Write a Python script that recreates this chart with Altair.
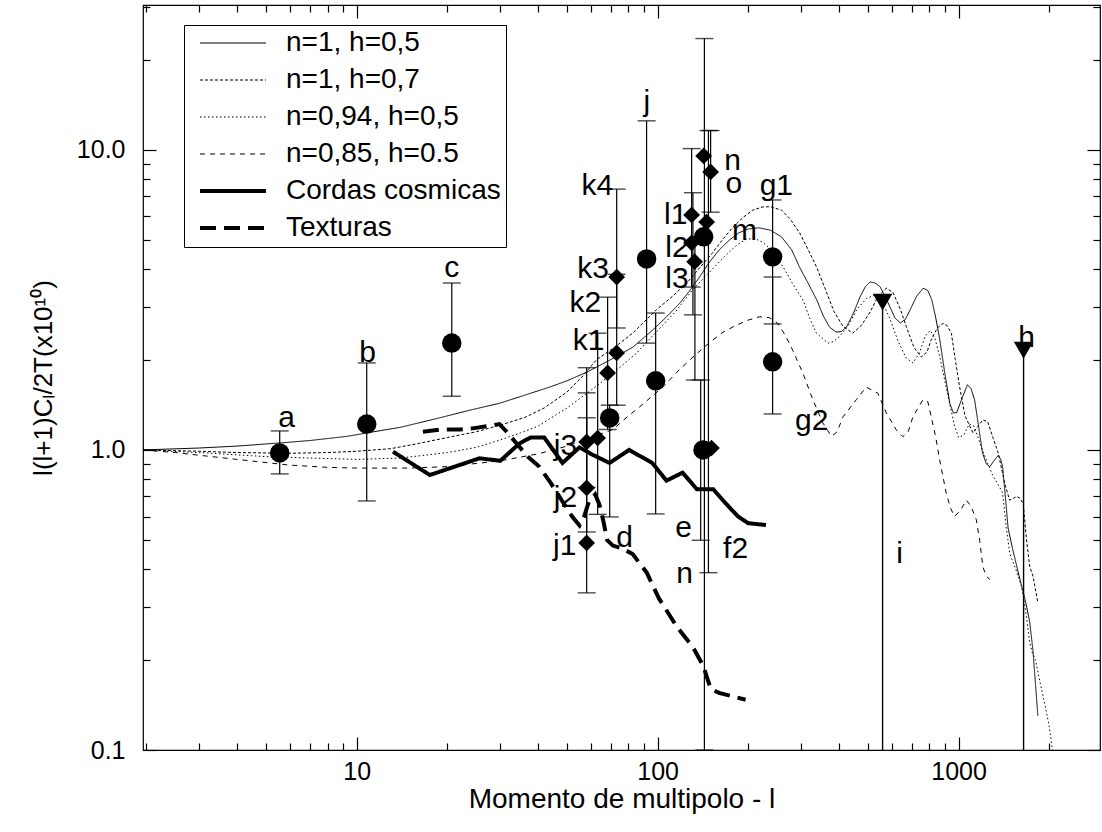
import altair as alt
import pandas as pd

FONT = "Liberation Sans"

# ---------------- axis ranges ----------------
X_DOMAIN = [1.95, 2950]
Y_DOMAIN = [0.1, 30.4]
X_MAJOR = [10, 100, 1000]
X_MINOR = [2, 3, 4, 5, 6, 7, 8, 9, 20, 30, 40, 50, 60, 70, 80, 90,
           200, 300, 400, 500, 600, 700, 800, 900, 2000]
Y_MAJOR = [0.1, 1.0, 10.0]
Y_MINOR = [0.2, 0.3, 0.4, 0.5, 0.6, 0.7, 0.8, 0.9, 2, 3, 4, 5, 6, 7, 8, 9, 20, 30]

# ---------------- model curves ----------------
SERIES = ["n=1, h=0,5", "n=1, h=0,7", "n=0,94, h=0,5", "n=0,85, h=0.5",
          "Cordas cosmicas", "Texturas"]
DASHES = [[1, 0], [3, 2], [1.5, 2.5], [5, 5], [1, 0], [16, 8]]
WIDTHS = [1, 1, 1, 1, 4, 4]

L_SOLID = [1.95, 3, 4, 5.55, 7, 9.3, 12, 14, 18.9, 24, 29.8, 36, 43.8, 50, 58.4, 69.2, 82.7, 96.3,
           108, 118.6, 128, 137.8, 148, 160, 173, 186, 200, 217, 237, 258, 279, 296, 316, 338,
           355, 372, 392, 408, 424, 447, 470, 490, 508, 528, 548, 570, 592, 615, 640, 665, 690,
           725, 763, 790, 815, 840, 866, 900, 935, 960, 985, 1025, 1070, 1100, 1130, 1165, 1200,
           1235, 1270, 1310, 1355, 1380, 1400, 1430, 1460, 1510, 1560, 1610, 1660, 1720, 1766, 1834]
V_SOLID = [1.0, 1.015, 1.03, 1.055, 1.075, 1.11, 1.16, 1.19, 1.28, 1.36, 1.43, 1.52, 1.62, 1.7,
           1.82, 1.99, 2.2, 2.51, 2.8, 3.09, 3.4, 3.77, 4.2, 4.64, 5.0, 5.29, 5.45, 5.5, 5.4, 5.13,
           4.64, 4.07, 3.6, 3.16, 2.8, 2.57, 2.47, 2.48, 2.57, 2.85, 3.23, 3.5, 3.63, 3.6, 3.5,
           3.25, 2.99, 2.75, 2.65, 2.72, 2.93, 3.25, 3.46, 3.4, 3.16, 2.75, 2.33, 1.8, 1.43, 1.33,
           1.33, 1.48, 1.65, 1.6, 1.47, 1.2, 0.98, 0.9, 0.88, 0.92, 0.96, 0.93, 0.88, 0.7, 0.55,
           0.47, 0.41, 0.36, 0.32, 0.27, 0.215, 0.13]

L_H07 = [1.95, 3, 4, 6, 8, 10, 13, 16, 20, 25, 30, 36, 42, 50, 56, 62.7, 72, 82.6, 99, 112, 125,
         138, 152, 165, 178, 192, 207, 223, 236, 258, 275, 296, 318, 337, 360, 385, 413, 445, 475,
         506, 540, 575, 605, 640, 670, 710, 752, 785, 811, 850, 887, 915, 946, 975, 1007, 1050,
         1116, 1160, 1204, 1250, 1300, 1355, 1420, 1477, 1520, 1557, 1600, 1640, 1679, 1722,
         1766, 1834]
V_H07 = [1.0, 0.99, 0.98, 0.975, 0.98, 0.99, 1.01, 1.05, 1.1, 1.15, 1.21, 1.28, 1.38, 1.56, 1.75,
         2.0, 2.2, 2.45, 2.93, 3.25, 3.6, 4.05, 4.53, 5.05, 5.53, 5.95, 6.3, 6.45, 6.47, 6.3, 5.9,
         5.3, 4.6, 4.08, 3.45, 2.9, 2.58, 2.45, 2.6, 2.86, 3.25, 3.46, 3.35, 2.95, 2.58, 2.2, 2.04,
         2.12, 2.33, 2.55, 2.64, 2.6, 2.45, 2.0, 1.63, 1.3, 1.14, 1.2, 1.26, 1.24, 1.1, 0.975,
         0.78, 0.68, 0.69, 0.70, 0.69, 0.66, 0.51, 0.41, 0.38, 0.31]

L_N094 = [1.95, 3, 5, 7, 10, 14, 20, 25, 30, 35, 40, 50, 60, 70, 85, 100, 115, 130, 150, 170, 185,
          198, 212, 225, 240, 261, 280, 304, 320, 337, 368, 385, 402, 430, 460, 495, 525, 555, 590,
          630, 670, 705, 740, 775, 805, 835, 865, 900, 935, 970, 1000, 1040, 1085, 1125, 1160, 1200,
          1250, 1300, 1350, 1400, 1440, 1480, 1550, 1620, 1680, 1720, 1760, 1800, 1860, 1940, 2000,
          2050]
V_N094 = [1.0, 0.98, 0.95, 0.94, 0.93, 0.94, 0.98, 1.02, 1.08, 1.14, 1.2, 1.38, 1.58, 1.78, 2.1,
          2.5, 2.9, 3.4, 3.95, 4.5, 4.85, 5.05, 5.05, 4.9, 4.6, 4.08, 3.6, 3.16, 2.75, 2.45, 2.27,
          2.3, 2.39, 2.6, 2.95, 3.2, 3.28, 3.15, 2.75, 2.3, 2.02, 1.95, 2.1, 2.4, 2.5, 2.35, 2.05,
          1.7, 1.42, 1.2, 1.1, 1.12, 1.22, 1.2, 1.1, 1.0, 0.9, 0.82, 0.77, 0.72, 0.55, 0.45, 0.4,
          0.35, 0.28, 0.23, 0.21, 0.2, 0.17, 0.14, 0.12, 0.1]

L_N085 = [1.95, 2.5, 3, 4, 6, 8, 10, 15, 20, 30, 40, 50, 60, 71, 80, 87, 104, 118, 131, 148, 165,
          178, 198, 218, 235, 250, 265, 281, 304, 328, 354, 378, 395, 413, 457, 493, 539, 575, 621,
          653, 680, 705, 761, 790, 811, 840, 865, 910, 940, 970, 1015, 1061, 1100, 1145, 1175, 1204,
          1235, 1270]
V_N085 = [1.0, 0.98, 0.96, 0.93, 0.89, 0.875, 0.87, 0.87, 0.88, 0.92, 0.97, 1.03, 1.1, 1.17, 1.3,
          1.39, 1.62, 1.85, 2.04, 2.27, 2.47, 2.57, 2.7, 2.78, 2.76, 2.65, 2.42, 2.15, 1.8, 1.47,
          1.23, 1.11, 1.15, 1.29, 1.47, 1.62, 1.545, 1.33, 1.166, 1.107, 1.15, 1.29, 1.47, 1.45,
          1.29, 1.1, 0.926, 0.717, 0.64, 0.6, 0.63, 0.68, 0.65, 0.585, 0.5, 0.408, 0.38, 0.37]

L_CORDAS = [13.2, 17.5, 25.6, 30, 34.7, 37.8, 42, 48.3, 55, 60, 69.2, 80.4, 96, 107, 121, 135,
            153, 168, 185, 200, 229]
V_CORDAS = [0.987, 0.825, 0.938, 0.92, 1.05, 1.1, 1.1, 0.905, 1.02, 0.97, 0.905, 1.0, 0.905, 0.79,
            0.84, 0.74, 0.74, 0.665, 0.6, 0.57, 0.562]

L_TEXTURAS = [16.6, 19, 22, 24.3, 27, 29.8, 31.5, 34, 37, 40.4, 44, 48, 52, 55, 57, 59, 62, 64,
              66, 68, 71, 76, 82.6, 92, 101, 116, 131, 142, 150, 160, 196]
V_TEXTURAS = [1.15, 1.17, 1.17, 1.18, 1.2, 1.22, 1.15, 1.05, 0.95, 0.88, 0.78, 0.68, 0.6, 0.56,
              0.6, 0.67, 0.71, 0.66, 0.58, 0.5, 0.48, 0.47, 0.45, 0.39, 0.32, 0.257, 0.22, 0.19,
              0.16, 0.155, 0.147]

# ---------------- measurements ----------------
CIRCLE_L = [5.55, 10.8, 20.7, 69.3, 91.9, 98.5, 142.2, 141.5, 241, 241]
CIRCLE_V = [0.977, 1.22, 2.27, 1.278, 4.33, 1.70, 5.13, 1.0, 4.4, 1.966]

DIAMOND_L = [58.1, 58.1, 58.1, 63.2, 68.2, 73.1, 73.1, 129.7, 129.7, 132.7, 142.2, 150, 145.5, 151]
DIAMOND_V = [0.49, 0.747, 1.063, 1.096, 1.806, 2.105, 3.77, 6.07, 4.90, 4.24, 9.55, 8.44, 5.75, 1.015]

BAR_L = [5.55, 10.8, 20.7, 69.3, 91.9, 98.5, 58.1, 58.1, 58.1, 63.2, 68.2, 73.1, 73.1,
         129.7, 131, 133, 143, 147.5, 150, 139, 241, 241]
BAR_LO = [0.832, 0.676, 1.51, 0.598, 2.27, 0.612, 0.334, 0.533, 0.75, 0.61, 1.17, 1.41, 2.55,
          3.49, 2.82, 1.71, 0.1, 0.39, 6.2, 0.50, 2.63, 1.318]
BAR_HI = [1.157, 1.95, 3.60, 1.41, 12.5, 2.86, 1.28, 1.55, 1.88, 2.45, 3.23, 3.85, 7.4,
          10.1, 7.2, 4.9, 23.5, 11.6, 11.6, 1.71, 6.81, 3.77]

LIMIT_L = [559, 1644]
LIMIT_V = [3.11, 2.15]

LABEL_TEXT = ["a", "b", "c", "d", "e", "f2", "n", "j1", "j2", "j3", "k1", "k2", "k3", "k4", "j",
              "l1", "l2", "l3", "n", "o", "g1", "m", "g2", "i", "h"]
LABEL_L = [5.85, 10.88, 20.7, 77.7, 122, 181.6, 123, 49.1, 49.4, 49.4, 59.0, 57.5, 61.0, 63.1,
           92.1, 114.8, 116, 116, 177.5, 179, 248, 194.5, 325, 637, 1683]
LABEL_V = [1.193, 1.966, 3.77, 0.475, 0.513, 0.437, 0.36, 0.447, 0.645, 0.962, 2.154, 2.884,
           3.74, 7.08, 13.5, 5.67, 4.40, 3.47, 8.58, 7.19, 7.08, 5.01, 1.166, 0.42, 2.2]

# ---------------- tables ----------------
curve_rows = []
for name, ls, vs in zip(SERIES,
                        [L_SOLID, L_H07, L_N094, L_N085, L_CORDAS, L_TEXTURAS],
                        [V_SOLID, V_H07, V_N094, V_N085, V_CORDAS, V_TEXTURAS]):
    for i, (l, v) in enumerate(zip(ls, vs)):
        curve_rows.append({"series": name, "idx": i, "l": l, "v": v})
curves_df = pd.DataFrame(curve_rows)

circles_df = pd.DataFrame({"l": CIRCLE_L, "v": CIRCLE_V})
diamonds_df = pd.DataFrame({"l": DIAMOND_L, "v": DIAMOND_V})
bars_df = pd.DataFrame({"l": BAR_L, "lo": BAR_LO, "hi": BAR_HI})
caps_df = pd.DataFrame({"l": BAR_L + BAR_L, "v": BAR_LO + BAR_HI})
limits_df = pd.DataFrame({"l": LIMIT_L, "v": LIMIT_V, "floor": [Y_DOMAIN[0]] * len(LIMIT_L)})
labels_df = pd.DataFrame({"t": LABEL_TEXT, "l": LABEL_L, "v": LABEL_V})

xs = alt.Scale(type="log", domain=X_DOMAIN, nice=False)
ys = alt.Scale(type="log", domain=Y_DOMAIN, nice=False)

def X(f="l"):
    return alt.X(f"{f}:Q", scale=xs, axis=None)

def Y(f="v"):
    return alt.Y(f"{f}:Q", scale=ys, axis=None)

leg = alt.Legend(title=None, orient="none", legendX=41, legendY=20, symbolType="stroke",
                 symbolSize=4356, symbolStrokeColor="black", labelFont=FONT, labelFontSize=28,
                 labelColor="black", labelLimit=400, strokeColor="black", fillColor="white",
                 padding=5, rowPadding=9, clipHeight=26, labelOffset=18, symbolOffset=9)

curves = alt.Chart(curves_df).mark_line(color="black", clip=True).encode(
    x=X(), y=Y(),
    strokeDash=alt.StrokeDash("series:N", scale=alt.Scale(domain=SERIES, range=DASHES), legend=leg),
    strokeWidth=alt.StrokeWidth("series:N", scale=alt.Scale(type="ordinal", domain=SERIES, range=WIDTHS), legend=leg),
    order="idx:Q",
)

bars = alt.Chart(bars_df).mark_rule(color="black", strokeWidth=1.2, clip=True).encode(
    x=X(), y=Y("lo"), y2="hi:Q")
caps = alt.Chart(caps_df).mark_tick(color="black", orient="horizontal", size=18, thickness=1.4, clip=True).encode(
    x=X(), y=Y())
drops = alt.Chart(limits_df).mark_rule(color="black", strokeWidth=1.4, clip=True).encode(
    x=X(), y=Y("floor"), y2="v:Q")
circles = alt.Chart(circles_df).mark_point(shape="circle", filled=True, color="black", opacity=1, size=380).encode(
    x=X(), y=Y())
diamonds = alt.Chart(diamonds_df).mark_point(shape="diamond", filled=True, color="black", opacity=1, size=280).encode(
    x=X(), y=Y())
triangles = alt.Chart(limits_df).mark_point(shape="triangle-down", filled=True, color="black", opacity=1, size=380).encode(
    x=X(), y=Y())
labels = alt.Chart(labels_df).mark_text(font=FONT, fontSize=30, align="center", baseline="alphabetic", color="black").encode(
    x=X(), y=Y(), text="t:N")

dummy = pd.DataFrame({"l": [10.0], "v": [1.0]})

def axis_layer(channel, orient, values, size, show_labels, **extra):
    kw = dict(orient=orient, values=values, tickSize=size, offset=-size, domain=False, grid=False,
              labels=show_labels, ticks=True, tickColor="black", tickWidth=1.2,
              labelFont=FONT, labelFontSize=25, labelColor="black",
              titleFont=FONT, titleColor="black", titleFontWeight="normal")
    kw.update(extra)
    if "title" not in kw:
        kw["title"] = None
    ax = alt.Axis(**kw)
    base = alt.Chart(dummy).mark_point(opacity=0)
    if channel == "x":
        return base.encode(x=alt.X("l:Q", scale=xs, axis=ax))
    return base.encode(y=alt.Y("v:Q", scale=ys, axis=ax))

axes = [
    axis_layer("x", "bottom", X_MAJOR, 13, True, format="d", labelPadding=9,
               title="Momento de multipolo - l", titleFontSize=28, titlePadding=1),
    axis_layer("x", "bottom", X_MINOR, 7, False),
    axis_layer("x", "top", X_MAJOR, 13, False),
    axis_layer("x", "top", X_MINOR, 7, False),
    axis_layer("y", "left", Y_MAJOR, 13, True, format=".1f", labelPadding=18,
               title="l(l+1)Cₗ/2T(x10¹⁰)", titleFontSize=26, titlePadding=20),
    axis_layer("y", "left", Y_MINOR, 7, False),
    axis_layer("y", "right", Y_MAJOR, 13, False),
    axis_layer("y", "right", Y_MINOR, 7, False),
]

chart = alt.layer(curves, bars, caps, drops, circles, diamonds, triangles, labels, *axes).resolve_axis(
    x="independent", y="independent"
).properties(
    width=957, height=745,
    padding={"left": 143, "top": 5, "right": 2, "bottom": 82},
    autosize=alt.AutoSizeParams(type="none"),
    background="white",
).configure_view(stroke="black", strokeWidth=1.2)

chart.save("out.html", embed_options={"renderer": "svg", "actions": False})
